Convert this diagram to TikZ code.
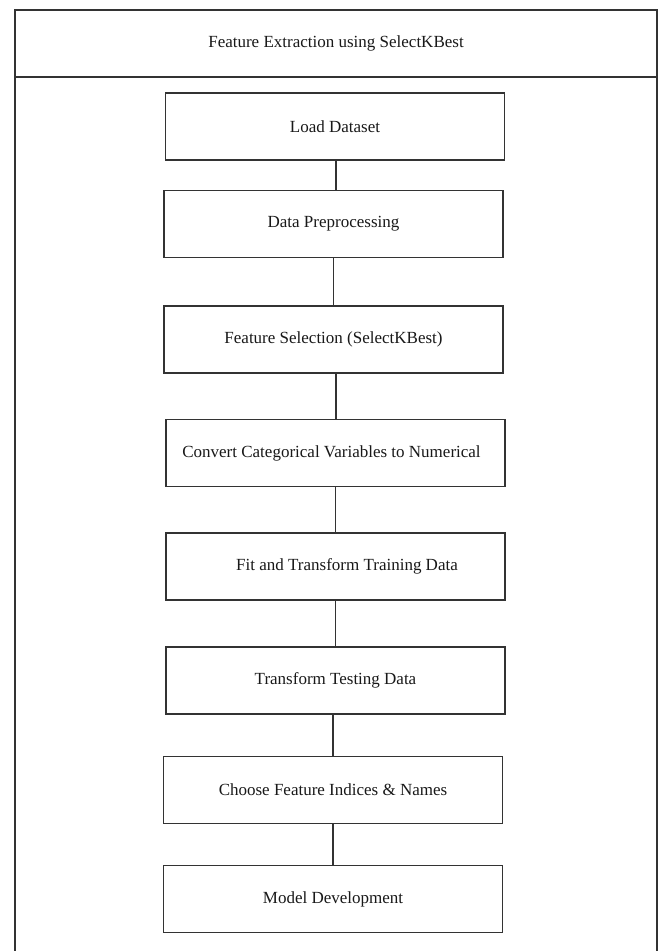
\documentclass[tikz,border=0pt]{standalone}
\usepackage{fontspec}
\setmainfont{Liberation Serif}
\begin{document}
\begin{tikzpicture}[x=1pt,y=-1pt,
  frame/.style={draw=black!80, line width=1.8pt},
  stepbox/.style={draw=black!80, line width=1.8pt, minimum width=339pt, minimum height=67pt, inner sep=0pt, font=\fontsize{17}{20}\selectfont, text=black!90},
  link/.style={draw=black!80, line width=1.8pt},
  lbl/.style={font=\fontsize{17}{20}\selectfont, text=black!90}]
\useasboundingbox (0,0) rectangle (662,951);
\fill[white] (0,0) rectangle (662,951);
% outer frame
\draw[frame] (15,960) -- (15,10) -- (657,10) -- (657,960);
\draw[frame] (15,77) -- (657,77);
\node[lbl] (title) at (336,43) {Feature Extraction using SelectKBest};
% steps
\node[stepbox] (b1) at (335,126.5) {Load Dataset};
\node[stepbox] (b2) at (333.5,224) {Data Preprocessing};
\node[stepbox] (b3) at (333.5,339.5) {Feature Selection (SelectKBest)};
\node[stepbox] (b4) at (335.5,453) {Convert Categorical Variables to Numerical\hspace*{8pt}};
\node[stepbox] (b5) at (335.5,566.5) {\hspace*{23pt}Fit and Transform Training Data};
\node[stepbox] (b6) at (335.5,680.5) {Transform Testing Data};
\node[stepbox] (b7) at (333,790) {Choose Feature Indices \& Names};
\node[stepbox] (b8) at (333,899) {Model Development};
% connectors
\draw[link] ([xshift=1pt]b1.south) -- ([xshift=1pt]b1.south |- b2.north);
\draw[link] (b2.south) -- (b2.south |- b3.north);
\draw[link] ([xshift=2.5pt]b3.south) -- ([xshift=2.5pt]b3.south |- b4.north);
\draw[link] (b4.south) -- (b4.south |- b5.north);
\draw[link] (b5.south) -- (b5.south |- b6.north);
\draw[link] ([xshift=-2.5pt]b6.south) -- ([xshift=-2.5pt]b6.south |- b7.north);
\draw[link] (b7.south) -- (b7.south |- b8.north);
\end{tikzpicture}
\end{document}
